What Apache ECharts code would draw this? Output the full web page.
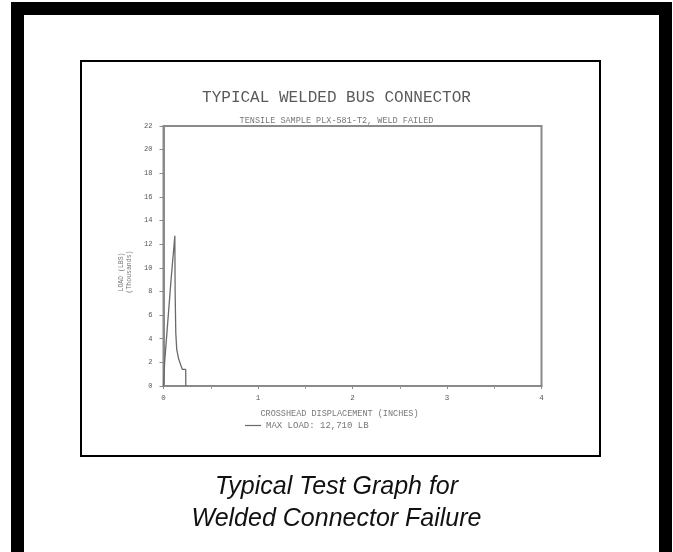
<!DOCTYPE html>
<html>
<head>
<meta charset="utf-8">
<script src="https://cdn.jsdelivr.net/npm/echarts@6/dist/echarts.min.js"></script>
<style>
html,body{margin:0;padding:0;background:#fff;}
#chart{width:673px;height:552px;}
</style>
</head>
<body>
<div id="chart"></div>
<script>
// Data
const displacement = [0, 0.005, 0.012, 0.08, 0.12, 0.123, 0.13, 0.14, 0.16, 0.19, 0.2, 0.235, 0.236];
const loadK =        [0, 0.8,   2.0,   9.0,  12.71, 8.0,  4.5,  3.1,  2.3,  1.6,  1.4, 1.4,   0];
const yTicks = [0,2,4,6,8,10,12,14,16,18,20,22];
const xTicks = [0,1,2,3,4];
const seriesName = 'MAX LOAD: 12,710 LB';
const chartTitle = 'TYPICAL WELDED BUS CONNECTOR';
const chartSubtitle = 'TENSILE SAMPLE PLX-581-T2, WELD FAILED';
const xName = 'CROSSHEAD DISPLACEMENT (INCHES)';
const yName = 'LOAD (LBS)\n(Thousands)';
const caption = 'Typical Test Graph for\nWelded Connector Failure';

const mono = "'Liberation Mono', 'DejaVu Sans Mono', monospace";
const ink = '#6a6a6a';

const chart = echarts.init(document.getElementById('chart'), null, {renderer: 'canvas'});
chart.setOption({
  animation: false,
  backgroundColor: '#fff',
  title: [
    {text: chartTitle, left: 'center', top: 85,
     textStyle: {fontFamily: mono, fontSize: 16, fontWeight: 'normal', color: '#5a5a5a'}},
    {text: chartSubtitle, left: 'center', top: 111,
     textStyle: {fontFamily: mono, fontSize: 8.5, fontWeight: 'normal', color: '#777'}},
    {text: caption, left: 'center', top: 466,
     textStyle: {fontFamily: "'Liberation Sans', Arial, sans-serif", fontStyle: 'italic', fontSize: 25, fontWeight: 'normal', color: '#111', lineHeight: 32}}
  ],
  graphic: [
    {type: 'rect', shape: {x: 17.5, y: 8.5, width: 648, height: 620},
     style: {fill: 'none', stroke: '#000', lineWidth: 13}, silent: true, z: 100},
    {type: 'rect', shape: {x: 81, y: 61, width: 519, height: 395},
     style: {fill: 'none', stroke: '#000', lineWidth: 2}, silent: true, z: 100}
  ],
  legend: {
    left: 240, top: 416, itemWidth: 16, itemHeight: 1.2, icon: 'rect', itemGap: 5,
    itemStyle: {color: ink},
    textStyle: {fontFamily: mono, fontSize: 9, color: '#777'},
    data: [seriesName]
  },
  grid: {left: 163.5, right: 131.5, top: 126, bottom: 166, show: true,
         borderColor: '#8a8a8a', borderWidth: 2, containLabel: false},
  xAxis: {
    type: 'value', min: 0, max: 4, interval: 1,
    name: xName, nameLocation: 'middle', nameGap: 23,
    nameTextStyle: {fontFamily: mono, fontSize: 8.5, color: '#777', padding: [0, 26, 0, 0]},
    axisLine: {show: true, onZero: false, lineStyle: {color: '#8a8a8a', width: 2}},
    axisTick: {show: true, inside: false, length: 3, lineStyle: {color: '#8a8a8a'}},
    minorTick: {show: true, splitNumber: 2, length: 3, lineStyle: {color: '#9a9a9a'}},
    splitLine: {show: false},
    axisLabel: {fontFamily: mono, fontSize: 7.5, color: '#555', margin: 8,
      formatter: v => xTicks.includes(v) ? String(v) : ''}
  },
  yAxis: {
    type: 'value', min: 0, max: 22, interval: 2,
    name: yName, nameLocation: 'middle', nameRotate: 90, nameGap: 30,
    nameTextStyle: {fontFamily: mono, fontSize: 6.5, color: '#777', lineHeight: 8, padding: [0, 32, 0, 0]},
    axisLine: {show: true, lineStyle: {color: '#8a8a8a', width: 2}},
    axisTick: {show: true, inside: false, length: 4, lineStyle: {color: '#8a8a8a'}},
    splitLine: {show: false},
    axisLabel: {fontFamily: mono, fontSize: 7, color: '#555', margin: 11,
      formatter: v => yTicks.includes(v) ? String(v) : ''}
  },
  series: [{
    name: seriesName, type: 'line', symbol: 'none', smooth: false,
    lineStyle: {color: ink, width: 1.3}, itemStyle: {color: ink},
    data: displacement.map((x, i) => [x, loadK[i]])
  }]
});
</script>
</body>
</html>
